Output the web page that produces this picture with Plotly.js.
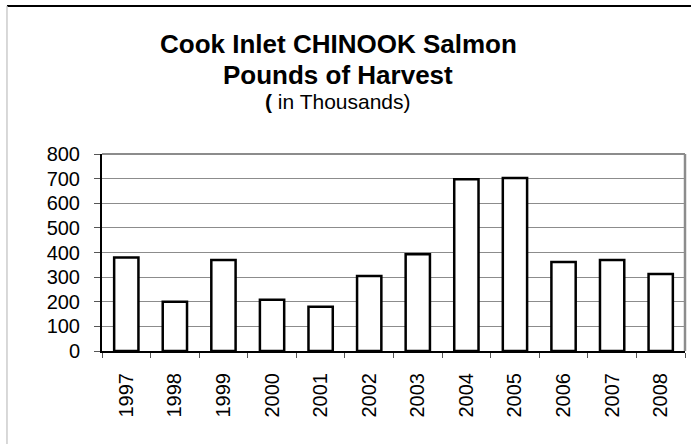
<!DOCTYPE html>
<html>
<head>
<meta charset="utf-8">
<script src="https://cdn.plot.ly/plotly-3.0.1.min.js"></script>
<style>
html,body{margin:0;padding:0;background:#fff;}
#chart{width:691px;height:444px;}
</style>
</head>
<body>
<div id="chart"></div>
<script>
const years = ['1997','1998','1999','2000','2001','2002','2003','2004','2005','2006','2007','2008'];
const harvest = [380, 200, 370, 208, 180, 305, 393, 697, 703, 361, 370, 313];
const yTicks = [0,100,200,300,400,500,600,700,800];
const titleLine1 = 'Cook Inlet CHINOOK Salmon';
const titleLine2 = 'Pounds of Harvest';
const titleLine3 = '<b>(</b> in Thousands)';

const FONT = 'Arial, "Liberation Sans", sans-serif';

const trace = {
  type: 'bar',
  x: years,
  y: harvest,
  marker: {color: '#ffffff', line: {color: '#000000', width: 2.5}},
  hoverinfo: 'x+y'
};

const layout = {
  width: 691, height: 444,
  margin: {l: 102, r: 6, t: 154, b: 93, pad: 0},
  paper_bgcolor: '#ffffff',
  plot_bgcolor: '#ffffff',
  showlegend: false,
  bargap: 0.5,
  font: {family: FONT, color: '#000000', size: 20},
  xaxis: {
    type: 'category',
    tickangle: -90,
    ticks: 'outside', ticklen: 5, tickwidth: 1, tickcolor: '#555',
    tickson: 'boundaries',
    showline: true, linecolor: '#000000', linewidth: 2,
    showgrid: false,
    tickfont: {family: FONT, size: 20, color: '#000'},
    ticklabelstandoff: 12,
    fixedrange: true
  },
  yaxis: {
    range: [0, 800],
    tickvals: yTicks,
    ticktext: yTicks.map(String),
    ticks: 'outside', ticklen: 6, tickwidth: 1, tickcolor: '#555',
    showline: true, linecolor: '#000000', linewidth: 2,
    showgrid: true, gridcolor: '#8c8c8c', gridwidth: 1,
    zeroline: false,
    tickfont: {family: FONT, size: 20, color: '#000'},
    ticklabelstandoff: 10,
    fixedrange: true
  },
  shapes: [
    {type: 'line', xref: 'paper', yref: 'paper', x0: 0, x1: 1, y0: 1, y1: 1,
     line: {color: '#8c8c8c', width: 2}},
    {type: 'line', xref: 'paper', yref: 'paper', x0: 1, x1: 1, y0: 0, y1: 1,
     line: {color: '#8c8c8c', width: 2.5}},
    {type: 'line', xref: 'paper', yref: 'paper', x0: -0.163, x1: 1.02, y0: 1.751, y1: 1.751,
     line: {color: '#000000', width: 2}},
    {type: 'line', xref: 'paper', yref: 'paper', x0: -0.163, x1: -0.163, y0: 1.751, y1: -0.48,
     line: {color: '#cccccc', width: 1.5}}
  ],
  annotations: [
    {text: '<b>' + titleLine1 + '</b>', xref: 'paper', yref: 'paper', x: 0.405, y: 1.560,
     xanchor: 'center', yanchor: 'middle', showarrow: false,
     font: {family: FONT, size: 26, color: '#000'}},
    {text: '<b>' + titleLine2 + '</b>', xref: 'paper', yref: 'paper', x: 0.405, y: 1.3995,
     xanchor: 'center', yanchor: 'middle', showarrow: false,
     font: {family: FONT, size: 26, color: '#000'}},
    {text: titleLine3, xref: 'paper', yref: 'paper', x: 0.405, y: 1.264,
     xanchor: 'center', yanchor: 'middle', showarrow: false,
     font: {family: FONT, size: 21, color: '#000'}}
  ]
};

Plotly.newPlot('chart', [trace], layout, {displayModeBar: false, staticPlot: true});
</script>
</body>
</html>
